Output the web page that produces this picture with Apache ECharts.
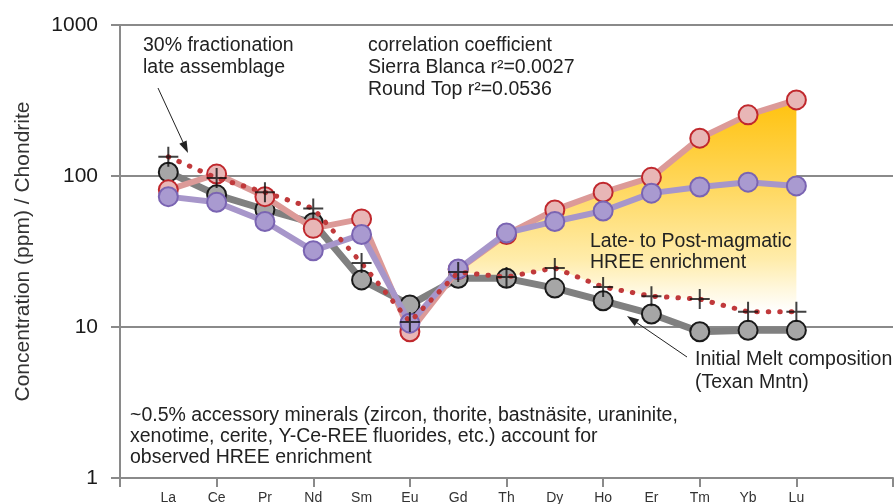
<!DOCTYPE html>
<html>
<head>
<meta charset="utf-8">
<script src="https://cdn.jsdelivr.net/npm/echarts@6/dist/echarts.min.js"></script>
<style>
  html, body { margin: 0; padding: 0; background: #fff; }
  #chart { width: 895px; height: 504px; }
</style>
</head>
<body>
<div id="chart"></div>
<script>
// Rare earth elements along the x axis (positions 1..14)
const elements = ['La', 'Ce', 'Pr', 'Nd', 'Sm', 'Eu', 'Gd', 'Th', 'Dy', 'Ho', 'Er', 'Tm', 'Yb', 'Lu'];

// Chondrite-normalised concentrations
const texanMntn     = [106, 75, 60, 49, 20.5, 14.0, 21, 21, 18.1, 14.9, 12.2, 9.3, 9.5, 9.5];
const sierraBlanca  = [81, 103, 73, 45, 52, 9.3, 24, 41, 59.6, 78, 98, 178, 254, 319];
const roundTop      = [73, 67, 50, 32, 41, 10.6, 24.2, 42, 50, 58.6, 77, 84.6, 91, 86];
const fractionation = [134, 97, 78, 61, 26.5, 10.8, 23.1, 21.4, 24.6, 18.4, 16.0, 15.3, 12.6, 12.6];

// Enrichment band spans Gd..Lu
const bandStart = 6;
const bandEnd = 13;

const yTicks = [1, 10, 100, 1000];

const FONT = '"Liberation Sans", Arial, sans-serif';
const TEXT_COLOR = '#222';
const AXIS_COLOR = '#8a8a8a';

const toPairs = arr => arr.map((v, i) => [i + 1, v]);

const chart = echarts.init(document.getElementById('chart'), null, { renderer: 'canvas' });

function label(text, x, y) {
  return {
    type: 'text', x, y, z: 100,
    style: { text, font: '19.5px ' + FONT, fill: TEXT_COLOR, align: 'left', verticalAlign: 'middle' }
  };
}

function arrow(x1, y1, x2, y2) {
  const dx = x2 - x1, dy = y2 - y1, len = Math.hypot(dx, dy);
  const ux = dx / len, uy = dy / len, px = -uy, py = ux;
  const head = 12, half = 4;
  const bx = x2 - head * ux, by = y2 - head * uy;
  return [
    { type: 'line', z: 100, shape: { x1, y1, x2: bx, y2: by }, style: { stroke: '#222', lineWidth: 1 } },
    { type: 'polygon', z: 100, shape: { points: [[x2, y2], [bx + half * px, by + half * py], [bx - half * px, by - half * py]] }, style: { fill: '#222' } }
  ];
}

const circle = (fill, border) => ({ color: fill, borderColor: border, borderWidth: 2 });

const plusPath = 'path://M-1,-10h2v9h9v2h-9v9h-2v-9h-9v-2h9z';

const option = {
  animation: false,
  backgroundColor: '#fff',
  grid: { left: 120, right: 2, top: 25, bottom: 26, containLabel: false, outerBoundsMode: 'none' },
  xAxis: [
    {
      type: 'value', min: 0, max: 16, interval: 1, position: 'bottom',
      axisLine: { show: true, lineStyle: { color: AXIS_COLOR, width: 2 } },
      axisTick: { show: false },
      splitLine: { show: false },
      axisLabel: {
        margin: 13, color: '#333', fontFamily: FONT, fontSize: 14,
        formatter: v => elements[v - 1] || ''
      }
    },
    {
      type: 'value', min: 0, max: 16, interval: 2, position: 'bottom',
      axisLine: { show: false },
      axisTick: { show: true, length: 9, lineStyle: { color: AXIS_COLOR, width: 2 } },
      axisLabel: { show: false },
      splitLine: { show: false }
    }
  ],
  yAxis: {
    type: 'log', logBase: 10, min: yTicks[0], max: yTicks[yTicks.length - 1],
    axisLine: { show: true, lineStyle: { color: AXIS_COLOR, width: 2 } },
    axisTick: { show: true, length: 9, lineStyle: { color: AXIS_COLOR, width: 2 } },
    splitLine: { show: true, lineStyle: { color: AXIS_COLOR, width: 2 } },
    axisLabel: { margin: 22, color: '#1a1a1a', fontFamily: FONT, fontSize: 21, formatter: v => String(v) },
    name: 'Concentration (ppm) / Chondrite',
    nameLocation: 'middle', nameGap: 86, nameRotate: 90,
    nameTextStyle: { color: '#333', fontFamily: FONT, fontSize: 21 }
  },
  series: [
    {
      // Late- to post-magmatic HREE enrichment band
      type: 'custom',
      xAxisIndex: 0,
      data: [[bandStart + 1, sierraBlanca[bandStart]]],
      z: 1,
      renderItem: (params, api) => {
        const pts = [];
        for (let i = bandStart; i <= bandEnd; i++) pts.push(api.coord([i + 1, sierraBlanca[i]]));
        for (let i = bandEnd; i >= bandStart; i--) pts.push(api.coord([i + 1, fractionation[i]]));
        return {
          type: 'polygon',
          shape: { points: pts },
          style: {
            fill: new echarts.graphic.LinearGradient(0, 0, 0, 1, [
              { offset: 0, color: '#ffc20e' },
              { offset: 0.4, color: '#ffd75c' },
              { offset: 0.75, color: '#ffecaa' },
              { offset: 0.9, color: '#fff8e0' },
              { offset: 1, color: '#ffffff' }
            ])
          }
        };
      }
    },
    {
      type: 'line', xAxisIndex: 0, z: 2,
      data: toPairs(texanMntn),
      symbol: 'circle', symbolSize: 19,
      lineStyle: { color: '#808080', width: 7 },
      itemStyle: circle('#a6a6a6', '#1a1a1a')
    },
    {
      type: 'line', xAxisIndex: 0, z: 3,
      data: toPairs(sierraBlanca),
      symbol: 'circle', symbolSize: 19,
      lineStyle: { color: '#dc9a98', width: 6 },
      itemStyle: circle('#e8b6b6', '#c0282d')
    },
    {
      type: 'line', xAxisIndex: 0, z: 4,
      data: toPairs(roundTop),
      symbol: 'circle', symbolSize: 19,
      lineStyle: { color: '#a796ca', width: 6 },
      itemStyle: circle('#a99ad0', '#7a64b2')
    },
    {
      type: 'line', xAxisIndex: 0, z: 5,
      data: toPairs(fractionation),
      showSymbol: false, symbol: 'none',
      lineStyle: { color: '#c0393b', width: 5, type: [0.5, 11], cap: 'round' }
    },
    {
      type: 'scatter', xAxisIndex: 0, z: 6,
      data: toPairs(fractionation),
      symbol: plusPath, symbolSize: 20,
      itemStyle: { color: '#111' }
    }
  ],
  graphic: [
    label('30% fractionation', 143, 46),
    label('late assemblage', 143, 68),
    label('correlation coefficient', 368, 46),
    label('Sierra Blanca r²=0.0027', 368, 68),
    label('Round Top r²=0.0536', 368, 90),
    label('Late- to Post-magmatic', 590, 242),
    label('HREE enrichment', 590, 263),
    label('Initial Melt composition', 695, 360),
    label('(Texan Mntn)', 695, 383),
    label('~0.5% accessory minerals (zircon, thorite, bastnäsite, uraninite,', 130, 416),
    label('xenotime, cerite, Y-Ce-REE fluorides, etc.) account for', 130, 437),
    label('observed HREE enrichment', 130, 458),
    ...arrow(158, 88, 188, 153),
    ...arrow(687, 357, 627, 316)
  ]
};

chart.setOption(option);
</script>
</body>
</html>
